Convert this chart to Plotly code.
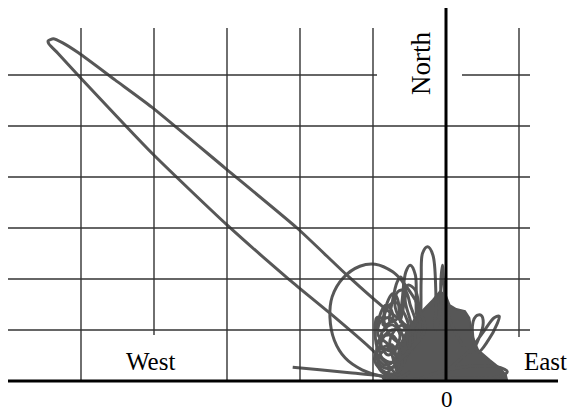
import plotly.graph_objects as go

# ---- data: ground-motion particle trajectory (East, North), in grid units ----
lead_e = [-2.10, -1.73, -1.32, -0.86, -0.63, -0.36]
lead_n = [0.27, 0.22, 0.16, 0.10, 0.06, 0.04]

ellipse_e = [-0.42, -0.59, -0.73, -0.97, -1.18, -1.41, -1.56, -1.59, -1.53, -1.38, -1.15, -0.84, -0.63]
ellipse_n = [1.59, 1.94, 2.14, 2.29, 2.25, 2.02, 1.65, 1.25, 0.80, 0.45, 0.22, 0.08, 0.04]

bigloop_e = [-0.63, -0.77, -1.04, -1.59, -2.14, -3.00, -4.03, -5.03, -5.32, -5.44, -5.45, -5.38,
             -5.25, -5.03, -4.53, -4.03, -3.03, -2.04, -1.36, -0.86, -0.63, -0.36]
bigloop_n = [0.04, 0.27, 0.65, 1.33, 1.98, 3.06, 4.47, 5.98, 6.43, 6.61, 6.67, 6.71,
             6.63, 6.43, 5.90, 5.37, 4.18, 3.00, 2.08, 1.45, 1.20, 0.80]

scribble_e = [-0.36, -0.08, 0.33, 0.67, 0.84, 0.71, 0.33, -0.01, 0.33, 0.53, 0.66, 0.73, 0.70, 0.58, 0.44,
              0.36, 0.41, 0.48, 0.51, 0.44, 0.33, 0.05, -0.03, -0.05, -0.07, -0.08, -0.14, -0.14, -0.18,
              -0.25, -0.32, -0.34, -0.36, -0.40, -0.42, -0.49, -0.55, -0.60, -0.63, -0.58, -0.58, -0.62,
              -0.67, -0.73, -0.77, -0.66, -0.67, -0.73, -0.79, -0.86, -0.73, -0.77, -0.82, -0.89, -0.93,
              -0.84, -0.89, -0.95, -0.97, -0.93, -0.74, -0.70, -0.84, -0.93, -0.90, -0.74, -0.63, -0.49,
              -0.56, -0.70, -0.77, -0.63, -0.47, -0.36, -0.42]
scribble_n = [0.04, 0.18, 0.29, 0.29, 0.18, 0.08, 0.06, 0.10, 0.61, 1.00, 1.24, 1.27, 1.12, 0.80, 0.57,
              1.00, 1.27, 1.29, 1.14, 0.80, 0.57, 1.20, 1.88, 2.27, 1.98, 1.39, 1.00, 1.78, 2.47,
              2.63, 2.51, 1.98, 1.20, 1.29, 2.08, 2.27, 2.14, 1.59, 1.16, 1.49, 1.88, 2.04,
              1.94, 1.59, 1.16, 1.24, 1.63, 1.71, 1.59, 1.10, 1.20, 1.45, 1.49, 1.35, 1.00,
              1.00, 1.24, 1.24, 1.00, 0.65, 0.71, 0.41, 0.31, 0.41, 0.22, 0.10, 0.22, 0.80,
              1.10, 1.00, 0.71, 0.45, 0.61, 1.00, 1.59]

scribble2_e = [-0.63, -0.84, -0.97, -0.93, -0.74, -0.60, -0.66, -0.79, -0.93, -0.90, -0.77, -0.63, -0.56,
               -0.70, -0.84, -0.82, -0.70, -0.56, -0.49, -0.63, -0.70, -0.66, -0.56, -0.49, -0.42,
               -0.56, -0.74, -0.88, -0.90, -0.77, -0.56, -0.42, -0.49, -0.56, -0.52, -0.42, -0.36,
               -0.29, -0.70, -0.86, -0.70, -0.49]
scribble2_n = [0.12, 0.18, 0.37, 0.61, 0.57, 0.37, 0.18, 0.71, 0.90, 1.16, 1.24, 1.00, 0.71,
               0.80, 1.10, 1.39, 1.55, 1.29, 0.90, 1.20, 1.49, 1.75, 1.78, 1.49, 1.10,
               1.00, 1.00, 0.80, 0.51, 0.37, 0.51, 0.80, 1.20, 1.59, 1.88, 1.78, 1.39,
               1.00, 0.31, 0.06, 0.02, 0.18]

scribble3_e = [-0.66, -0.88, -0.93, -0.84, -0.66, -0.63, -0.77, -0.90, -0.95, -0.90, -0.74, -0.66,
               -0.79, -0.89, -0.86, -0.73, -0.63, -0.70]
scribble3_n = [0.06, 0.18, 0.41, 0.61, 0.65, 0.41, 0.25, 0.31, 0.61, 0.84, 0.90, 0.71,
               0.51, 0.71, 1.00, 1.10, 0.90, 0.61]

# dense, fully over-written core of the trace
core_e = [-0.68, -0.68, -0.63, -0.53, -0.42, -0.29, -0.18, -0.08, 0.00, 0.05, 0.14, 0.26, 0.32,
          0.36, 0.44, 0.60, 0.74, 0.82, 0.84, -0.68]
core_n = [0.00, 0.41, 0.71, 1.00, 1.24, 1.43, 1.59, 1.76, 1.67, 1.49, 1.41, 1.37, 1.24,
          0.88, 0.61, 0.41, 0.25, 0.12, 0.00, 0.00]

grid_e = [-5, -4, -3, -2, -1, 1]
grid_n = [1, 2, 3, 4, 5, 6]
labels = {"west": "West", "east": "East", "north": "North", "zero": "0"}

# ---- figure ----
W, H = 569, 412
px_e, x0_px = 73.0, 446.0     # pixels per grid unit, origin column
px_n, y0_px = 51.0, 381.0     # pixels per grid unit, origin row
xr = [-x0_px / px_e, (W - x0_px) / px_e]
yr = [-(H - y0_px) / px_n, y0_px / px_n]
def ex(p): return (p - x0_px) / px_e
def ny(p): return (y0_px - p) / px_n

TRACE = "#575757"
fig = go.Figure()
fig.add_trace(go.Scatter(x=core_e, y=core_n, mode="lines", fill="toself",
                         fillcolor=TRACE, line=dict(color=TRACE, width=2), hoverinfo="skip"))
for ex_, ny_, sm in [(lead_e, lead_n, 1.0), (ellipse_e, ellipse_n, 1.0),
                     (bigloop_e, bigloop_n, 0.55), (scribble_e, scribble_n, 1.0),
                     (scribble2_e, scribble2_n, 1.0), (scribble3_e, scribble3_n, 1.0)]:
    fig.add_trace(go.Scatter(x=ex_, y=ny_, mode="lines",
                             line=dict(color=TRACE, width=3, shape="spline", smoothing=sm)))

G = dict(color="#333333", width=1.4)
left, right, top = ex(8), ex(530), ny(28)
shapes = []
for g in grid_n:
    if g == 6:
        shapes.append(dict(type="line", x0=left, x1=ex(377), y0=g, y1=g, line=G))
        shapes.append(dict(type="line", x0=ex(462), x1=right, y0=g, y1=g, line=G))
    else:
        shapes.append(dict(type="line", x0=left, x1=right, y0=g, y1=g, line=G))
for g in grid_e:
    bottom = 0
    if g == -4:
        bottom = ny(335)
    if g == 1:
        bottom = ny(337)
    shapes.append(dict(type="line", x0=g, x1=g, y0=bottom, y1=top, line=G))
AX = dict(color="#000000", width=3)
shapes.append(dict(type="line", x0=left, x1=ex(558), y0=0, y1=0, line=AX))
shapes.append(dict(type="line", x0=0, x1=0, y0=0, y1=ny(8), line=AX))

FONT = "Liberation Serif, Times New Roman, serif"
ann = [
    dict(x=ex(150), y=ny(361), text=labels["west"], font=dict(size=25)),
    dict(x=ex(545), y=ny(361), text=labels["east"], font=dict(size=25)),
    dict(x=ex(447), y=ny(399), text=labels["zero"], font=dict(size=23)),
    dict(x=ex(421), y=ny(64), text=labels["north"], font=dict(size=27), textangle=-90),
]
for a in ann:
    a.update(showarrow=False, xref="x", yref="y")
    a["font"].update(family=FONT, color="#000000")

fig.update_layout(
    width=W, height=H, margin=dict(l=0, r=0, t=0, b=0),
    paper_bgcolor="white", plot_bgcolor="white", showlegend=False,
    xaxis=dict(range=xr, visible=False, fixedrange=True),
    yaxis=dict(range=yr, visible=False, fixedrange=True),
    shapes=shapes, annotations=ann,
)
fig.write_html("out.html", config={"displayModeBar": False},
               post_script="document.body.style.margin='0px';")
